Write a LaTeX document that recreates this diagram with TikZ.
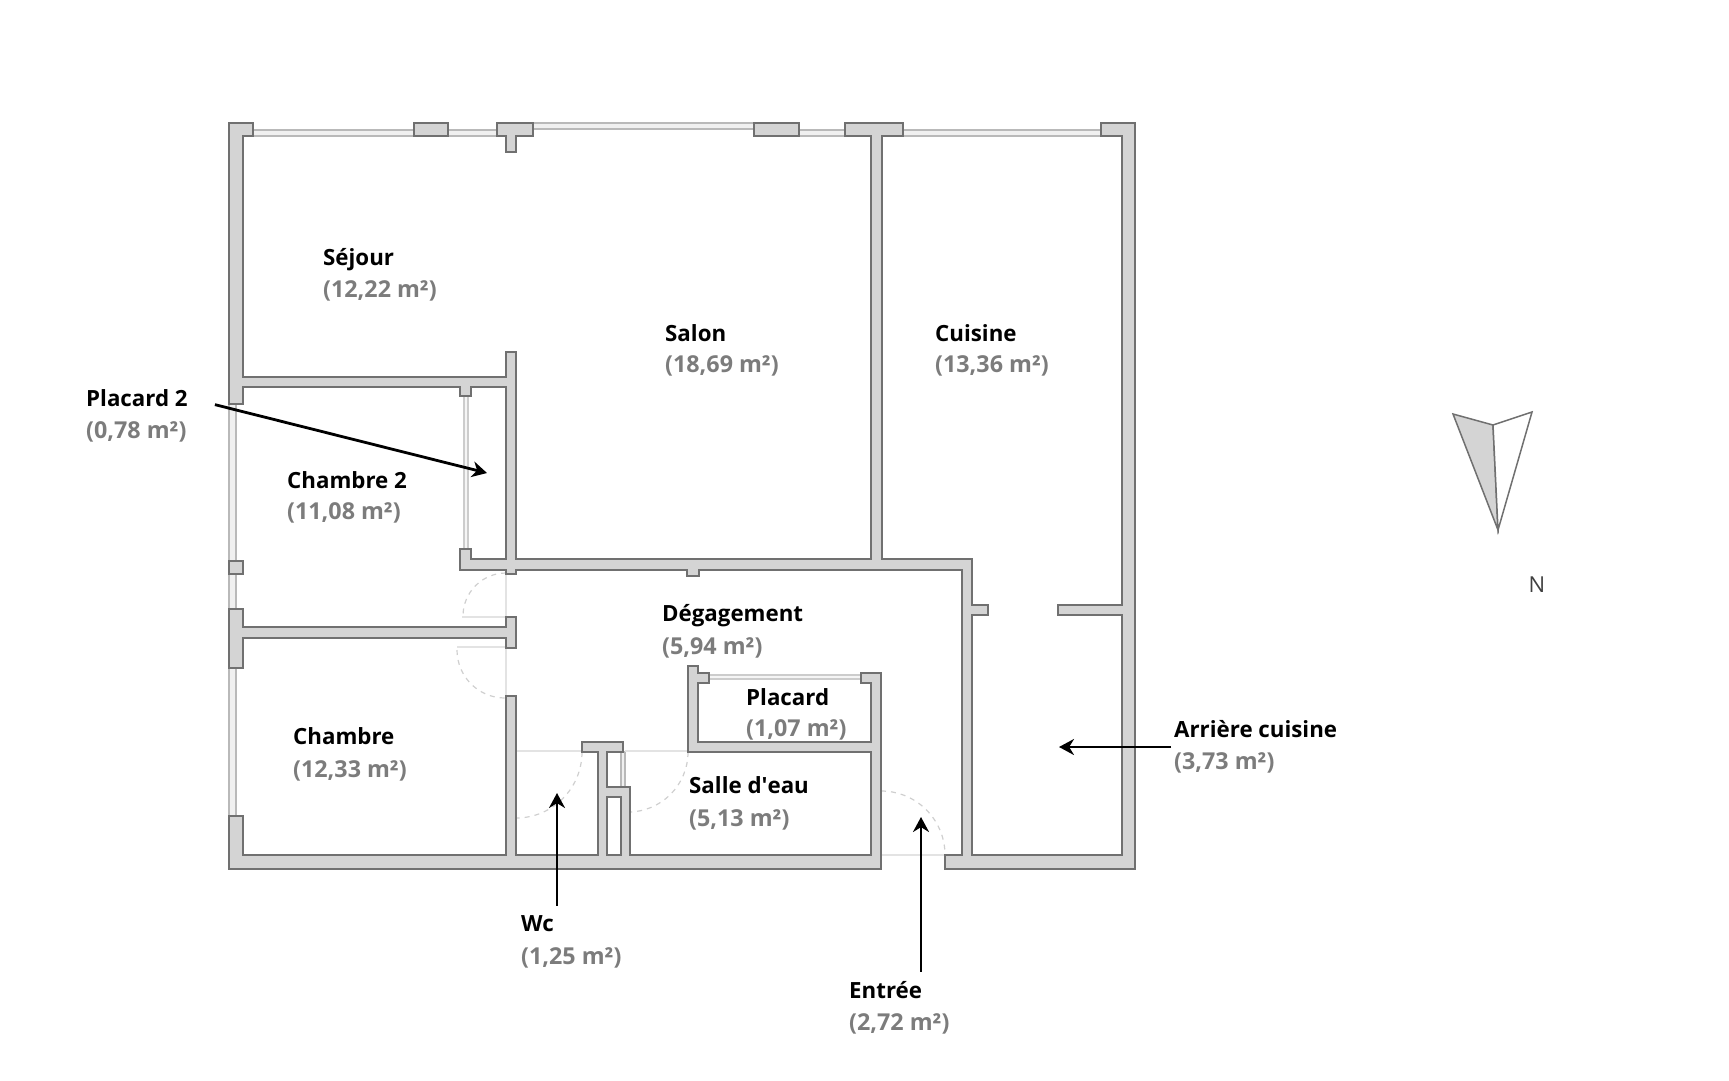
\documentclass[tikz,border=0pt]{standalone}
\usepackage{fontspec}
\setmainfont{Open Sans}
\usetikzlibrary{calc}
\definecolor{wallfill}{HTML}{D4D4D4}
\definecolor{wallline}{HTML}{707070}
\definecolor{areatext}{HTML}{7C7C7C}
\tikzset{
	wall/.style={draw=wallline,fill=wallfill,line width=1.5pt,even odd rule,line join=miter},
	win/.style={draw=gray!55,fill=gray!12,line width=1.1pt},
	faint/.style={draw=gray!22,line width=1.2pt},
	swing/.style={draw=gray!38,dashed,dash pattern=on 5pt off 5pt,line width=1.2pt},
	arr/.style={-{Stealth[length=15pt,width=16pt]},line width=2.8pt,black},
	roomname/.style={anchor=base west,inner sep=0pt,font=\fontsize{22.3}{24}\selectfont\bfseries},
	roomarea/.style={anchor=base west,inner sep=0pt,text=areatext,font=\fontsize{23.3}{24}\selectfont\bfseries}
}
\usetikzlibrary{arrows.meta}
\begin{document}
\begin{tikzpicture}[x=1pt,y=-1pt]
	\useasboundingbox (0,0) rectangle (1729,1080);
	% fenetres
	\foreach \xa/\ya/\xb/\yb in {253/130/414/136,448/130/497/136,533/123/754/129,799/130/845/136,903/130/1101/136,229/404/236/609,229/668/236/816,621/752/625/787}
		\draw[win] (\xa,\ya) rectangle (\xb,\yb);
	\draw[win,draw=gray!40,fill=gray!8] (464,396) rectangle (468,549) (709,675) rectangle (861,679);
	% seuils
	\draw[faint] (516,751)--(582,751) (625,751)--(688,751) (881,855)--(945,855)
		(506,573)--(506,617) (506,648)--(506,696);
	\draw[faint] (462,617)--(506,617) (457,647)--(506,647);
	% portes
	\draw[swing] (506,573) arc[start angle=-90,end angle=-180,radius=43];
	\draw[swing] (457,650) arc[start angle=180,end angle=90,radius=48];
	\draw[swing] (582,752) arc[start angle=0,end angle=90,radius=66];
	\draw[swing] (688,752) arc[start angle=0,end angle=90,radius=60];
	\draw[swing] (881,791) arc[start angle=-90,end angle=0,radius=64];
	% murs
	\draw[wall] (229,123)--(253,123)--(253,136)--(243,136)--(243,377)--(506,377)--(506,352)--(516,352)
		--(516,559)--(871,559)--(871,136)--(845,136)--(845,123)--(903,123)--(903,136)--(882,136)
		--(882,559)--(972,559)--(972,605)--(988,605)--(988,615)--(972,615)--(972,855)--(1122,855)
		--(1122,615)--(1058,615)--(1058,605)--(1122,605)--(1122,136)--(1101,136)--(1101,123)--(1135,123)
		--(1135,869)--(945,869)--(945,855)--(962,855)--(962,570)--(699,570)--(699,576)--(687,576)--(687,570)
		--(516,570)--(516,574)--(506,574)--(506,570)--(460,570)--(460,549)--(471,549)--(471,559)--(506,559)
		--(506,387)--(471,387)--(471,396)--(460,396)--(460,387)--(243,387)--(243,404)--(229,404)--cycle;
	\draw[wall] (229,816)--(243,816)--(243,855)--(506,855)--(506,696)--(516,696)--(516,855)--(598,855)
		--(598,752)--(582,752)--(582,742)--(623,742)--(623,752)--(607,752)--(607,787)--(630,787)--(630,855)
		--(871,855)--(871,752)--(688,752)--(688,666)--(698,666)--(698,673)--(709,673)--(709,683)--(698,683)
		--(698,742)--(871,742)--(871,683)--(861,683)--(861,673)--(881,673)--(881,869)--(229,869)--cycle
		(607,797)--(621,797)--(621,855)--(607,855)--cycle;
	\draw[wall] (229,609)--(243,609)--(243,627)--(506,627)--(506,617)--(516,617)--(516,648)--(506,648)
		--(506,638)--(243,638)--(243,668)--(229,668)--cycle;
	\draw[wall] (497,123)--(533,123)--(533,136)--(516,136)--(516,152)--(506,152)--(506,136)--(497,136)--cycle;
	\foreach \xa/\ya/\xb/\yb in {414/123/448/136,754/123/799/136,229/561/243/574}
		\draw[wall] (\xa,\ya) rectangle (\xb,\yb);
	% pieces
	\node[roomname] (sejour) at (323,265) {Séjour};
	\node[roomarea] (sejoura) at (323,297) {(12,22 m²)};
	\node[roomname] (salon) at (665,341) {Salon};
	\node[roomarea] (salona) at (665,372) {(18,69 m²)};
	\node[roomname] (cuisine) at (935,341) {Cuisine};
	\node[roomarea] (cuisinea) at (935,372) {(13,36 m²)};
	\node[roomname] (placardb) at (86,406) {Placard 2};
	\node[roomarea] (placardba) at (86,438) {(0,78 m²)};
	\node[roomname] (chambreb) at (287,488) {Chambre 2};
	\node[roomarea] (chambreba) at (287,519) {(11,08 m²)};
	\node[roomname] (chambre) at (293,744) {Chambre};
	\node[roomarea] (chambrea) at (293,777) {(12,33 m²)};
	\node[roomname] (degagement) at (662,621) {Dégagement};
	\node[roomarea] (degagementa) at (662,654) {(5,94 m²)};
	\node[roomname] (placard) at (746,705) {Placard};
	\node[roomarea] (placarda) at (746,736) {(1,07 m²)};
	\node[roomname] (salle) at (689,793) {Salle d\textquotesingle eau};
	\node[roomarea] (sallea) at (689,826) {(5,13 m²)};
	\node[roomname] (wc) at (521,931) {Wc};
	\node[roomarea] (wca) at (521,964) {(1,25 m²)};
	\node[roomname] (entree) at (849,998) {Entrée};
	\node[roomarea] (entreea) at (849,1030) {(2,72 m²)};
	\node[roomname] (arriere) at (1174,737) {Arrière cuisine};
	\node[roomarea] (arrierea) at (1174,769) {(3,73 m²)};
	% fleches
	\coordinate (tipplacard) at (487,473);
	\coordinate (tipwc) at (557,793);
	\coordinate (tipentree) at (921,817);
	\coordinate (tiparriere) at (1059,747);
	\draw[arr] ([xshift=27pt,yshift=-7pt]placardb.east)--(tipplacard);
	\draw[arr] (tipwc|-wc.north)++(0,-9)--(tipwc);
	\draw[arr] (tipentree|-entree.north)++(0,-9)--(tipentree);
	\draw[arr] ([xshift=-3pt]arriere.west|-tiparriere)--(tiparriere);
	% nord
	\draw[draw=wallline,fill=wallfill,line width=1.5pt] (1453,414)--(1493,425)--(1498,530)--cycle;
	\draw[draw=wallline,fill=white,line width=1.5pt] (1493,425)--(1532,412)--(1498,530)--cycle;
	\node[inner sep=0pt,text=black!75,font=\fontsize{22}{24}\selectfont] (nord) at (1537,585) {N};
\end{tikzpicture}
\end{document}
